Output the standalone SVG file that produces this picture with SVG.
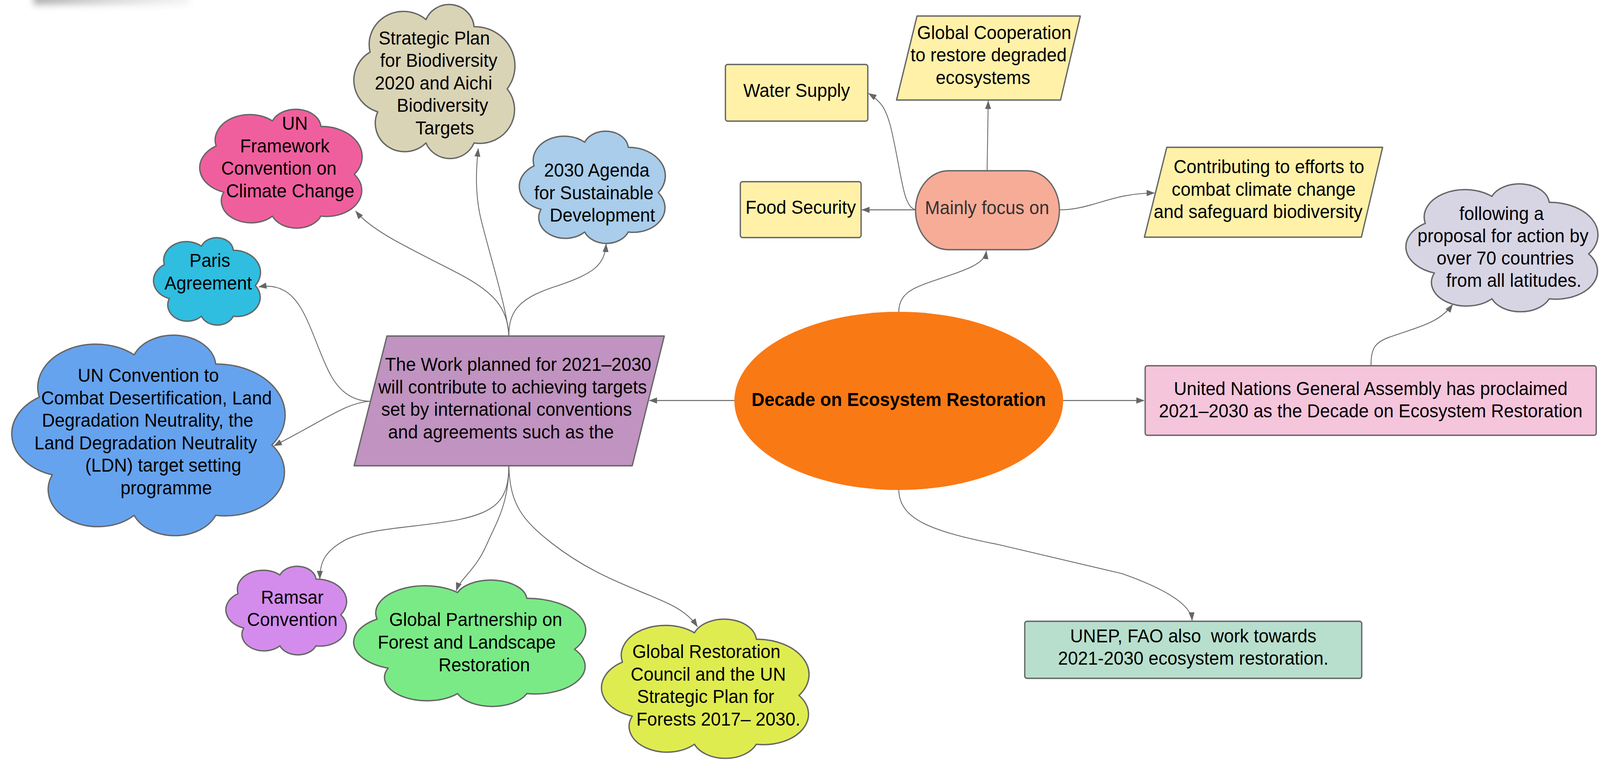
<svg xmlns="http://www.w3.org/2000/svg" width="4292" height="1945" viewBox="0 0 4292 1945">
<defs>
<style>
.n{stroke:#666;stroke-width:3.5;stroke-linejoin:round}
.cl{vector-effect:non-scaling-stroke}
text{font-family:"Liberation Sans",Arial,sans-serif;font-size:48px;fill:#000;text-anchor:middle}
.c{fill:none;stroke:#666;stroke-width:2.2;marker-end:url(#ah)}
.s{stroke-width:2.7}
</style>
<marker id="ah" markerUnits="userSpaceOnUse" markerWidth="22" markerHeight="16" refX="21" refY="8" viewBox="0 0 22 16" orient="auto"><path d="M0 0 L22 8 L0 16 Z" fill="#666"/></marker>
<path id="cloud" class="cl" d="M153 696 A215 215 0 0 1 105 308 A215 215 0 0 1 456 97 A157 157 0 0 1 758 143 A254 254 0 0 1 966 547 A219 219 0 0 1 758 898 A163 163 0 0 1 456 898 A185 185 0 0 1 153 696 Z"/>
<linearGradient id="sm" x1="0" y1="0" x2="1" y2="0"><stop offset="0" stop-color="#9a9a9a"/><stop offset="0.5" stop-color="#cfcfcf"/><stop offset="1" stop-color="#f2f2f2"/></linearGradient>
<filter id="blur" x="-20%" y="-200%" width="140%" height="500%"><feGaussianBlur stdDeviation="9"/></filter>
</defs>
<g id="diagram" transform="scale(0.9543 1)">
<rect x="90" y="-28" width="420" height="40" fill="url(#sm)" filter="url(#blur)" opacity="0.8"/>

<g id="connectors">
<path class="c s" d="M1970 1025 L1742 1025"/>
<path class="c s" d="M2852 1025 L3069 1025"/>
<path class="c" d="M2411 799 C2411 755 2440 740 2500 720 C2600 688 2642 675 2646 642"/>
<path class="c" d="M2411 1254 C2413 1330 2500 1360 2680 1394 L3010 1468 C3120 1505 3195 1545 3198 1588"/>
<path class="c" d="M2648 437 L2651 258"/>
<path class="c s" d="M2456 537 L2312 537"/>
<path class="c" d="M2454 536 C2430 530 2422 480 2410 420 C2395 345 2385 290 2362 265 C2350 252 2340 245 2330 239"/>
<path class="c" d="M2842 537 C2930 537 2980 494 3097 494"/>
<path class="c" d="M3678 936 C3677 890 3690 875 3730 862 C3800 838 3860 828 3897 779"/>
<path class="c" d="M994 1027 C950 1027 915 1005 890 965 C860 915 835 830 805 785 C785 755 755 725 694 734"/>
<path class="c" d="M994 1027 C930 1030 880 1070 735 1141"/>
<path class="c" d="M1365 858 C1362 785 1320 745 1230 700 C1120 645 1000 595 954 540"/>
<path class="c" d="M1365 858 C1360 790 1310 640 1290 560 C1275 500 1276 440 1283 380"/>
<path class="c" d="M1365 858 C1365 790 1400 760 1500 730 C1590 700 1622 680 1626 624"/>
<path class="c" d="M1365 1192 C1365 1280 1330 1310 1230 1330 C1120 1350 1000 1350 930 1380 C870 1410 858 1440 858 1482"/>
<path class="c" d="M1365 1192 C1365 1290 1330 1340 1305 1395 C1275 1460 1235 1480 1224 1512"/>
<path class="c" d="M1365 1192 C1368 1290 1400 1330 1480 1390 C1600 1480 1720 1510 1800 1548 C1835 1565 1858 1585 1871 1604"/>
</g>

<g id="decade">
<ellipse cx="2411" cy="1026" rx="441" ry="228" fill="#f97915"/>
<text x="2411" y="1039" font-weight="bold">Decade on Ecosystem Restoration</text>
</g>

<g id="proclaimed">
<rect class="n" x="3072" y="936" width="1210" height="178" rx="6" fill="#f5c5db"/>
<text x="3677" y="1011">United Nations General Assembly has proclaimed</text>
<text x="3677" y="1068">2021–2030 as the Decade on Ecosystem Restoration</text>
</g>

<g id="following">
<use href="#cloud" class="n" fill="#d7d5e4" transform="translate(3770 471) scale(0.509 0.327)"/>
<text x="4028" y="563">following a</text>
<text x="4032" y="620">proposal for action by</text>
<text x="4038" y="677">over 70 countries</text>
<text x="4061" y="734">from all latitudes.</text>
</g>

<g id="unep">
<rect class="n" x="2749" y="1590" width="904" height="146" rx="6" fill="#b8dfcd"/>
<text x="3201" y="1644" xml:space="preserve" style="white-space:pre">UNEP, FAO also  work towards</text>
<text x="3201" y="1701">2021-2030 ecosystem restoration.</text>
</g>

<g id="mainly">
<rect class="n" x="2456" y="437" width="386" height="202" rx="88" ry="101" fill="#f7ac97"/>
<text x="2648" y="548" style="fill:#333">Mainly focus on</text>
</g>

<g id="food">
<rect class="n" x="1986" y="465" width="324" height="143" rx="6" fill="#fff1a8"/>
<text x="2148" y="547">Food Security</text>
</g>

<g id="water">
<rect class="n" x="1946" y="165" width="382" height="145" rx="6" fill="#fff1a8"/>
<text x="2137" y="248">Water Supply</text>
</g>

<g id="cooperation">
<polygon class="n" points="2460,41 2898,41 2845,256 2405,256" fill="#fff1a8"/>
<text x="2667" y="100">Global Cooperation</text>
<text x="2652" y="157.5">to restore degraded</text>
<text x="2637" y="215">ecosystems</text>
</g>

<g id="contributing">
<polygon class="n" points="3130,377 3709,377 3652,607 3070,607" fill="#fff1a8"/>
<text x="3404" y="443">Contributing to efforts to</text>
<text x="3390" y="501">combat climate change</text>
<text x="3375" y="558">and safeguard biodiversity</text>
</g>

<g id="work">
<polygon class="n" points="1038,860 1782,860 1696,1192 950,1192" fill="#c093c0"/>
<text x="1390" y="949">The Work planned for 2021–2030</text>
<text x="1375" y="1006.6">will contribute to achieving targets</text>
<text x="1359" y="1064">set by international conventions</text>
<text x="1344" y="1121.8">and agreements such as the</text>
</g>

<g id="strategic">
<use href="#cloud" class="n" fill="#dad4b6" transform="translate(948 12) scale(0.427 0.394)"/>
<text x="1165" y="114">Strategic Plan</text>
<text x="1177" y="171.5">for Biodiversity</text>
<text x="1163" y="229">2020 and Aichi</text>
<text x="1187" y="286.5">Biodiversity</text>
<text x="1193" y="344">Targets</text>
</g>

<g id="agenda2030">
<use href="#cloud" class="n" fill="#a9cdea" transform="translate(1392 336) scale(0.387 0.287)"/>
<text x="1601" y="452">2030 Agenda</text>
<text x="1593" y="509.6">for Sustainable</text>
<text x="1616" y="567">Development</text>
</g>

<g id="unfccc">
<use href="#cloud" class="n" fill="#f05f9d" transform="translate(534.5 280) scale(0.4305 0.304)"/>
<text x="791" y="332">UN</text>
<text x="764" y="389.6">Framework</text>
<text x="748" y="447">Convention on</text>
<text x="778.5" y="504.8">Climate Change</text>
</g>

<g id="paris">
<use href="#cloud" class="n" fill="#2fbde0" transform="translate(411 608.5) scale(0.2835 0.2235)"/>
<text x="563" y="683">Paris</text>
<text x="558.5" y="740.6">Agreement</text>
</g>

<g id="unccd">
<use href="#cloud" class="n" fill="#66a3ee" transform="translate(29.5 858.5) scale(0.7245 0.5125)"/>
<text x="398" y="977">UN Convention to</text>
<text x="420" y="1034.6">Combat Desertification, Land</text>
<text x="396" y="1092">Degradation Neutrality, the</text>
<text x="391" y="1149.8">Land Degradation Neutrality</text>
<text x="438" y="1207.4">(LDN) target setting</text>
<text x="446" y="1265">programme</text>
</g>

<g id="ramsar">
<use href="#cloud" class="n" fill="#d38ceb" transform="translate(605 1449.5) scale(0.32 0.2265)"/>
<text x="784" y="1545">Ramsar</text>
<text x="784" y="1602">Convention</text>
</g>

<g id="partnership">
<use href="#cloud" class="n" fill="#7aea86" transform="translate(947 1485) scale(0.615 0.323)"/>
<text x="1276" y="1602">Global Partnership on</text>
<text x="1252" y="1660">Forest and Landscape</text>
<text x="1299" y="1717.6">Restoration</text>
</g>

<g id="council">
<use href="#cloud" class="n" fill="#dfec50" transform="translate(1612 1585) scale(0.55 0.356)"/>
<text x="1895" y="1684">Global Restoration</text>
<text x="1900" y="1741.7">Council and the UN</text>
<text x="1893" y="1799">Strategic Plan for</text>
<text x="1927" y="1857">Forests 2017– 2030.</text>
</g>
</g>
</svg>
